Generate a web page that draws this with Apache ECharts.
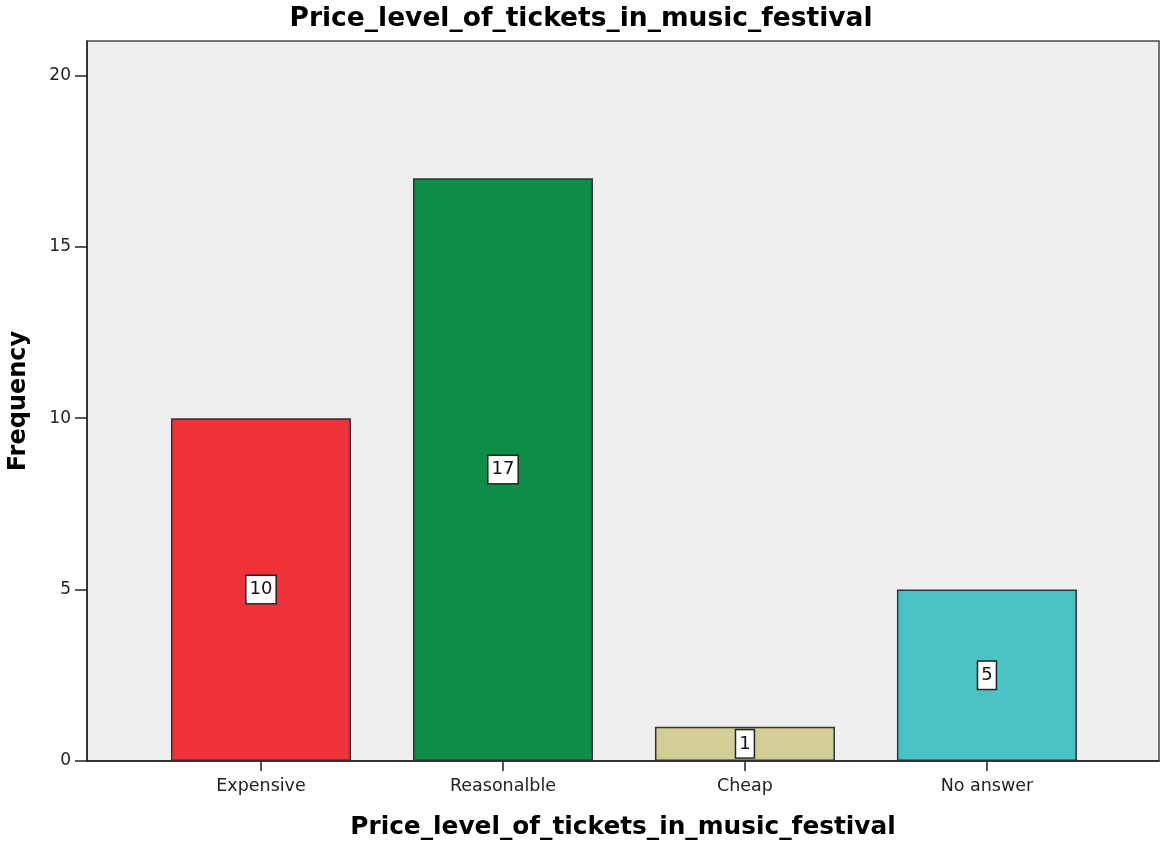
<!DOCTYPE html>
<html><head><meta charset="utf-8">
<script src="https://cdn.jsdelivr.net/npm/echarts@6/dist/echarts.min.js"></script>
<style>html,body{margin:0;padding:0;background:#fff}#c{width:1162px;height:843px}</style>
</head><body><div id="c"></div>
<script>
const categories = ["Expensive", "Reasonalble", "Cheap", "No answer"];
const frequencies = [10, 17, 1, 5];
const barColors = ["#ef3139", "#0f8c45", "#d3ce96", "#49c3c6"];
const yTicks = [0, 5, 10, 15, 20];
const titleText = "Price_level_of_tickets_in_music_festival";

const chart = echarts.init(document.getElementById('c'));
const font = '"DejaVu Sans", Verdana, sans-serif';
chart.setOption({
  animation: false,
  title: { text: titleText, left: 'center', top: 1,
    textStyle: { fontFamily: font, fontSize: 26.5, fontWeight: 'bold', color: '#000' } },
  grid: { left: 87, right: 3, top: 41, bottom: 82, show: true, outerBoundsMode: 'none', containLabel: false,
    backgroundColor: '#efefef', borderColor: '#4a4a4a', borderWidth: 1.5 },
  xAxis: {
    type: 'value', min: -0.719, max: 3.711,
    name: titleText, nameLocation: 'middle', nameGap: 54,
    nameTextStyle: { fontFamily: font, fontSize: 24.8, fontWeight: 'bold', color: '#000' },
    axisLine: { show: true, onZero: false, lineStyle: { color: '#222', width: 1.5 } },
    axisTick: { show: true, length: 10, customValues: [0, 1, 2, 3], lineStyle: { color: '#222', width: 1.5 } },
    axisLabel: { customValues: [0, 1, 2, 3], margin: 16, fontFamily: font, fontSize: 17.5, color: '#222',
      formatter: v => categories[Math.round(v)] },
    splitLine: { show: false }
  },
  yAxis: {
    type: 'value', min: 0, max: 21, interval: 5,
    name: 'Frequency', nameLocation: 'middle', nameGap: 56, nameRotate: 90,
    nameTextStyle: { fontFamily: font, fontSize: 24, fontWeight: 'bold', color: '#000' },
    axisLine: { show: true, onZero: false, lineStyle: { color: '#222', width: 1.5 } },
    axisTick: { show: true, length: 12, customValues: yTicks, lineStyle: { color: '#222', width: 1.5 } },
    axisLabel: { margin: 16, customValues: yTicks, fontFamily: font, fontSize: 17, color: '#222' },
    splitLine: { show: false }
  },
  series: [{
    type: 'bar', barWidth: 180,
    data: frequencies.map((v, i) => ({ value: [i, v], itemStyle: { color: barColors[i] } })),
    itemStyle: { borderColor: '#333', borderWidth: 1.5 },
    label: { show: true, position: 'inside', formatter: p => p.value[1],
      fontFamily: font, fontSize: 18, color: '#111', backgroundColor: '#fff',
      borderColor: '#222', borderWidth: 1.5, padding: [5, 3, 4, 3] }
  }]
});
</script></body></html>
